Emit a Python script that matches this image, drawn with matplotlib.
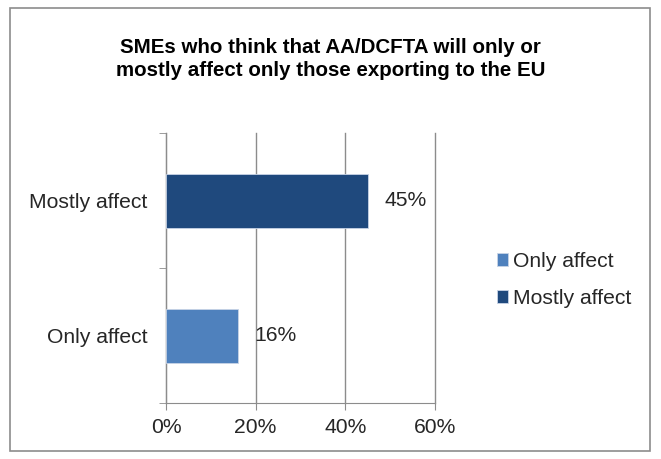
import matplotlib.pyplot as plt
from matplotlib.patches import Rectangle

plt.rcParams['font.family'] = ['Liberation Sans', 'DejaVu Sans']

categories = ["Only affect", "Mostly affect"]
values = [16, 45]
colors = ["#4F81BD", "#1F497D"]
xticks = [0, 20, 40, 60]

fs = 15.2
txt = "#262626"

fig = plt.figure(figsize=(6.61, 4.59), dpi=100)
ax = fig.add_axes([0.2511, 0.122, 0.4070, 0.588])

for i, (cat, val, col) in enumerate(zip(categories, values, colors)):
    ax.barh(i, val, height=0.4, color=col, edgecolor="#C8D4E6", linewidth=0.6, label=cat, zorder=3)
    ax.annotate(f"{val}%", xy=(val, i), xytext=(12, 0), textcoords="offset points",
                va="center", ha="left", fontsize=fs, color=txt)

ax.set_xlim(0, 60)
ax.set_ylim(-0.5, 1.5)
ax.set_xticks(xticks)
ax.set_xticklabels([f"{x}%" for x in xticks], fontsize=fs, color=txt)
ax.set_yticks(range(len(categories)))
ax.set_yticklabels(categories, fontsize=fs, color=txt)
ax.set_yticks([-0.5, 0.5, 1.5], minor=True)
ax.tick_params(axis="y", which="major", length=0, pad=13.5)
ax.tick_params(axis="y", which="minor", length=5, color="#8C8C8C")
ax.tick_params(axis="x", length=5, color="#8C8C8C", pad=6)
ax.grid(axis="x", color="#8C8C8C", linewidth=1, zorder=0)
for gl in ax.xaxis.get_gridlines():
    gl.set_clip_on(False)
for s in ["top", "right"]:
    ax.spines[s].set_visible(False)
for s in ["left", "bottom"]:
    ax.spines[s].set_color("#8C8C8C")

fig.legend(loc="center left", bbox_to_anchor=(0.752, 0.39), frameon=False, fontsize=fs,
           handlelength=0.52, handleheight=0.52, handletextpad=0.25, labelspacing=0.85,
           borderpad=0, borderaxespad=0, labelcolor=txt)

fig.text(0.5, 0.872, "SMEs who think that AA/DCFTA will only or\nmostly affect only those exporting to the EU",
         ha="center", va="center", fontsize=14.8, fontweight="bold", linespacing=1.3)

fig.patches.append(Rectangle((0.015, 0.017), 0.969, 0.966, transform=fig.transFigure,
                             fill=False, edgecolor="#8C8C8C", linewidth=1.2))

fig.savefig("out.png", dpi=100)
